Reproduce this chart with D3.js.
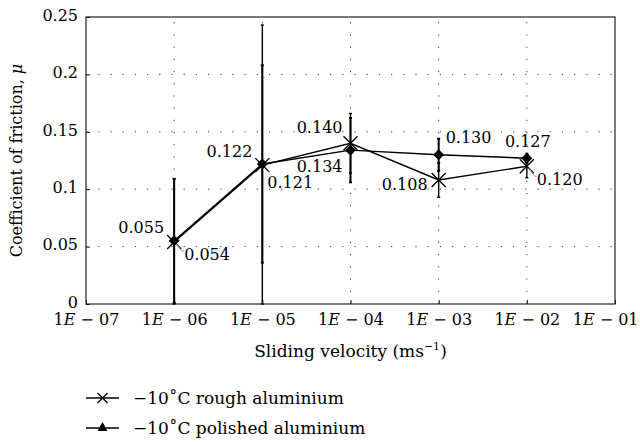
<!DOCTYPE html>
<html>
<head>
<meta charset="utf-8">
<script src="https://cdn.jsdelivr.net/npm/d3@7"></script>
<style>
  body { margin: 0; background: #fff; }
</style>
</head>
<body>
<div id="chart"></div>
<script>
// data
const velocities = [1e-6, 1e-5, 1e-4, 1e-3, 1e-2];
const roughMu = [0.054, 0.121, 0.140, 0.108, 0.120];
const roughErr = [0.055, 0.122, 0.026, 0.015, 0.010];
const polishedMu = [0.055, 0.122, 0.134, 0.130, 0.127];
const polishedErr = [0.054, 0.086, 0.028, 0.014, 0.004];
const xTicks = [1e-7, 1e-6, 1e-5, 1e-4, 1e-3, 1e-2, 1e-1];
const xTickLabels = ["07", "06", "05", "04", "03", "02", "01"];
const yTicks = [0, 0.05, 0.1, 0.15, 0.2, 0.25];
const yTickLabels = ["0", "0.05", "0.1", "0.15", "0.2", "0.25"];
const seriesNames = ["\u221210\u02DAC rough aluminium", "\u221210\u02DAC polished aluminium"];

// label placement: [dx, dy, anchor, leader]
const roughLabelPos = [[10, 18, "start", true], [5, 23, "start", false], [-8, -10, "end", false], [-11, 10, "end", false], [10, 19, "start", true]];
const polishedLabelPos = [[-10, -8, "end", false], [-10, -7, "end", false], [-8, 22, "end", false], [7, -12, "start", false], [1, -11, "middle", false]];

const FONT = "DejaVu Serif";
const FS = 16;
const width = 640, height = 442;
const margin = {left: 86, right: 25, top: 17, bottom: 138};

const svg = d3.select("#chart").append("svg")
    .attr("width", width)
    .attr("height", height)
    .style("font-family", FONT);

const x = d3.scaleLog().domain([1e-7, 1e-1]).range([margin.left, width - margin.right]);
const y = d3.scaleLinear().domain([0, 0.25]).range([height - margin.bottom, margin.top]);

// grid
const grid = svg.append("g");
grid.selectAll("line.gx")
    .data(xTicks.slice(1, -1))
    .enter().append("line")
    .attr("x1", d => x(d)).attr("x2", d => x(d))
    .attr("y1", y(0)).attr("y2", y(0.25))
    .attr("stroke", "#333").attr("stroke-width", 1)
    .attr("stroke-dasharray", "1.2,11");
grid.selectAll("line.gy")
    .data(yTicks.slice(1, -1))
    .enter().append("line")
    .attr("y1", d => y(d)).attr("y2", d => y(d))
    .attr("x1", x(1e-7)).attr("x2", x(1e-1))
    .attr("stroke", "#333").attr("stroke-width", 1)
    .attr("stroke-dasharray", "1.2,11");

// axes
const xAxis = svg.append("g")
    .attr("transform", `translate(0,${y(0)})`)
    .call(d3.axisBottom(x).tickValues(xTicks).tickSize(-4).tickPadding(10).tickFormat(""))
    .attr("font-family", null).attr("font-size", FS);
xAxis.select(".domain").remove();
xAxis.selectAll(".tick line").attr("stroke", "#000");
xAxis.selectAll(".tick text")
    .attr("fill", "#000")
    .each(function(d, i) {
        const t = d3.select(this);
        t.append("tspan").text("1");
        t.append("tspan").attr("font-style", "italic").text("E");
        t.append("tspan").text(" \u2212 " + xTickLabels[i]);
    });
// keep the last label inside the picture
xAxis.selectAll(".tick text").filter(d => d === 1e-1)
    .attr("text-anchor", "end")
    .attr("x", width - 2 - x(1e-1));

const yAxis = svg.append("g")
    .attr("transform", `translate(${x(1e-7)},0)`)
    .call(d3.axisLeft(y).tickValues(yTicks).tickSize(-4).tickPadding(8).tickFormat((d, i) => yTickLabels[i]))
    .attr("font-family", null).attr("font-size", FS);
yAxis.select(".domain").remove();
yAxis.selectAll(".tick text").attr("fill", "#000").attr("dy", "0.2em");
yAxis.selectAll(".tick line").attr("stroke", "#000");

// frame
svg.append("rect")
    .attr("x", x(1e-7)).attr("y", y(0.25))
    .attr("width", x(1e-1) - x(1e-7))
    .attr("height", y(0) - y(0.25))
    .attr("fill", "none").attr("stroke", "#333").attr("stroke-width", 1.3);

// error bars
function errorBars(mu, err, w) {
    const g = svg.append("g").attr("stroke", "#000").attr("stroke-width", w);
    velocities.forEach((v, i) => {
        const lo = Math.max(0, mu[i] - err[i]), hi = mu[i] + err[i];
        g.append("line").attr("x1", x(v)).attr("x2", x(v)).attr("y1", y(lo)).attr("y2", y(hi));
        [lo, hi].forEach(e => g.append("line")
            .attr("x1", x(v) - 1.5).attr("x2", x(v) + 1.5)
            .attr("y1", y(e)).attr("y2", y(e)));
    });
}
errorBars(roughMu, roughErr, 1.4);
errorBars(polishedMu, polishedErr, 2);

// lines
const line = d3.line().x(d => x(d[0])).y(d => y(d[1]));
svg.append("path")
    .datum(velocities.map((v, i) => [v, roughMu[i]]))
    .attr("d", line).attr("fill", "none").attr("stroke", "#000").attr("stroke-width", 1.4);
svg.append("path")
    .datum(velocities.map((v, i) => [v, polishedMu[i]]))
    .attr("d", line).attr("fill", "none").attr("stroke", "#000").attr("stroke-width", 1.4);

// markers
const cross = (g, cx, cy, s) => g.append("path")
    .attr("d", `M${cx - s},${cy - s}L${cx + s},${cy + s}M${cx - s},${cy + s}L${cx + s},${cy - s}`)
    .attr("stroke", "#000").attr("stroke-width", 1.3).attr("fill", "none");
const diamond = (g, cx, cy, s) => g.append("path")
    .attr("d", `M${cx},${cy - s}L${cx + s},${cy}L${cx},${cy + s}L${cx - s},${cy}Z`)
    .attr("fill", "#000");

const marks = svg.append("g");
velocities.forEach((v, i) => {
    diamond(marks, x(v), y(polishedMu[i]), 5.5);
    cross(marks, x(v), y(roughMu[i]), 7);
});

// value labels
const labels = svg.append("g").attr("font-size", FS).attr("fill", "#000");
function valueLabels(mu, pos) {
    velocities.forEach((v, i) => {
        const [dx, dy, anchor, leader] = pos[i];
        const px = x(v), py = y(mu[i]);
        if (leader) {
            labels.append("path")
                .attr("d", `M${px + 2},${py + 2}L${px + dx - 2},${py + dy - 9}L${px + dx},${py + dy - 9}`)
                .attr("stroke", "#999").attr("stroke-width", 1).attr("fill", "none");
        }
        labels.append("text")
            .attr("x", px + dx).attr("y", py + dy)
            .attr("text-anchor", anchor)
            .text(d3.format(".3f")(mu[i]));
    });
}
valueLabels(roughMu, roughLabelPos);
valueLabels(polishedMu, polishedLabelPos);

// axis titles
const xt = svg.append("text")
    .attr("x", x(1e-4)).attr("y", 357)
    .attr("text-anchor", "middle").attr("font-size", 17);
xt.append("tspan").text("Sliding velocity (ms");
xt.append("tspan").attr("font-size", 11).attr("dy", -7).text("\u22121");
xt.append("tspan").attr("dy", 7).text(")");

svg.append("text")
    .attr("transform", `translate(22,${(y(0) + y(0.25)) / 2}) rotate(-90)`)
    .attr("text-anchor", "middle").attr("font-size", FS)
    .html("Coefficient of friction, <tspan font-style='italic'>\u03BC</tspan>");

// legend
const legend = svg.append("g").attr("transform", "translate(86,398)");
seriesNames.forEach((name, i) => {
    const gy = i * 30;
    legend.append("line").attr("x1", 0).attr("x2", 33).attr("y1", gy).attr("y2", gy)
        .attr("stroke", "#000").attr("stroke-width", 1.3);
    if (i === 0) {
        cross(legend, 16.5, gy, 5);
    } else {
        legend.append("path")
            .attr("d", `M${16.5},${gy - 6}L${21.5},${gy + 3}L${11.5},${gy + 3}Z`)
            .attr("fill", "#000");
    }
    legend.append("text").attr("x", 47).attr("y", gy + 6)
        .attr("font-size", 17).text(name);
});
</script>
</body>
</html>
